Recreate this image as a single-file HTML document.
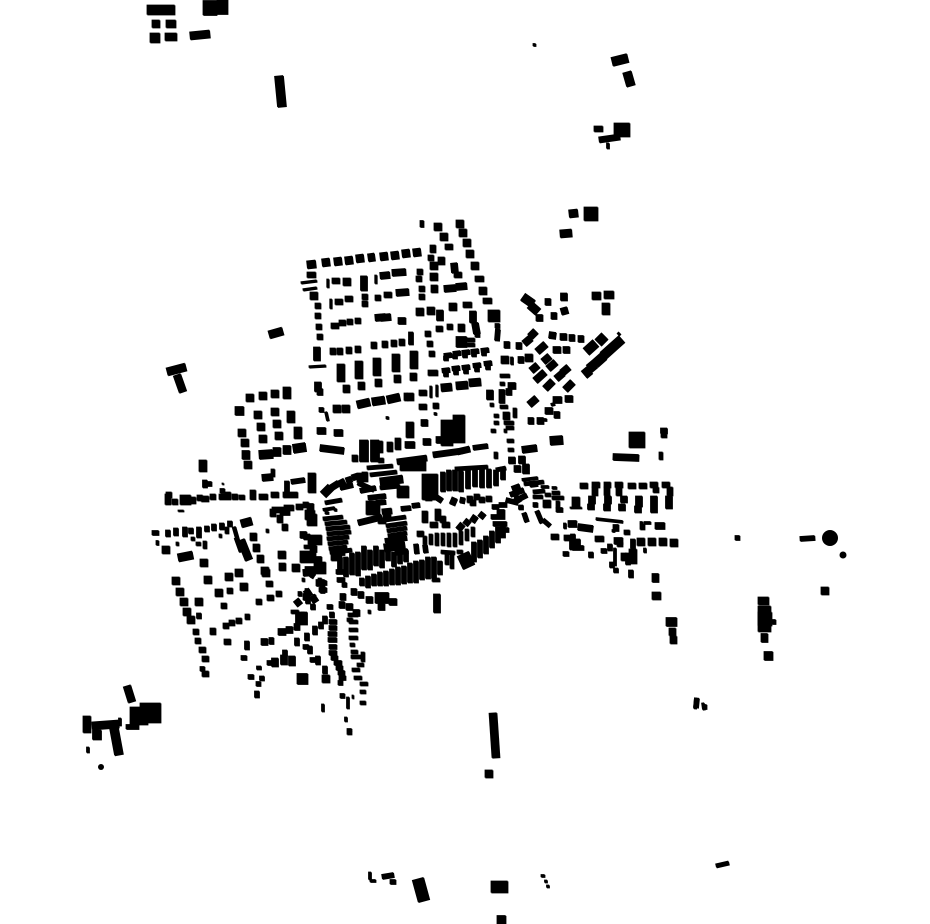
<!DOCTYPE html>
<html><head><meta charset="utf-8"><title>Figure-ground map</title>
<style>html,body{margin:0;padding:0;background:#fff}svg{display:block}</style></head>
<body>
<svg xmlns="http://www.w3.org/2000/svg" width="930" height="924" viewBox="0 0 930 924">
<rect width="930" height="924" fill="#fff"/>
<defs><g id="m" fill="none" stroke="#000">
<!-- outlying -->
<path stroke-width="10" d="M147 10h28M150 38h10"/>
<path stroke-width="15" d="M203 8h14M217 7h11"/>
<path stroke-width="8" d="M152 24h8M166 24h10M165 37h12M190 36l20-2M569 214l9-1M560 234l12-1M758 601h11"/>
<path stroke-width="9" d="M279 76l3 31"/>
<path stroke-width="3" d="M533 45h3"/>
<path stroke-width="9" d="M612 62l16-4M627 72l4 14"/>
<path stroke-width="6" d="M594 129h9M599 140l21-3"/>
<path stroke-width="3" d="M608 143v6"/>
<path stroke-width="14" d="M614 130h16M584 214h14M758 619h14"/>
<path stroke-width="26" d="M758 619h13"/>
<path stroke-width="8" d="M269 335l14-4"/>
<path stroke-width="8" d="M167 372l19-5M177 375l6 17"/>
<path stroke-width="7" d="M437 594v19"/>
<path stroke-width="8" d="M493 713l3 45"/>
<path stroke-width="8" d="M485 774h8"/>
<path stroke-width="4" d="M716 866l13-3"/>
<path stroke-width="12" d="M418 879l6 22M491 887h17"/>
<path stroke-width="9" d="M497 920h9M761 638h7M764 656h9M652 578h7M666 622h11"/>
<path stroke-width="8" d="M652 596h9M669 632h7M670 640h7M821 591h8"/>
<path stroke-width="5" d="M382 877l12-2M800 539l15-1M735 538h5M390 882h6"/>
<path stroke-width="3" d="M370 872v8M370 881h6M541 876h4M546 880v3M548 885v3M696 698l-1 11M703 703l1 7M88 747v6M120 718v8"/>
<path stroke-width="5" d="M697 698l-1 10M703 707h4M772 622h4"/>
<path stroke-width="8" d="M127 686l5 16M87 716v17"/>
<path stroke-width="18" d="M130 716h18"/>
<path stroke-width="20" d="M140 713h21"/>
<path stroke-width="8" d="M92 726l27-2"/>
<path stroke-width="9" d="M97 730v10M114 728l5 27"/>
<path stroke-width="5" d="M126 727h13"/>
<path stroke-width="16" d="M629 440h16"/>
<path stroke-width="7" d="M613 457l26 1M664 428v6"/>
<path stroke-width="4" d="M661 436h6M661 452v8"/>
<path stroke-width="3" d="M620 333l-2 2"/>
<!-- north block w8 -->
<path stroke-width="8" d="M307 265l9-1M322 263l8-1M334 262l8-1M345 261l8-1M356 259l8-1M368 258l7-1M380 257l8-1M391 256l8-1M402 254l8-1M413 253l8-1M310 296h8M430 249h6M434 227h8M440 237h8M456 224h8M459 233h8M463 243h8M466 254h8M471 266h8M479 291h8M430 266h8M430 277h8M438 261h7M431 289h7M343 282h8M343 389h7M358 386h7M375 383h7M394 379h7M410 377h7M404 397h10M458 328h7M416 312h8M427 311h8M449 307h8"/>
<path stroke-width="6" d="M307 275h9M315 306h6M315 316h6M316 327h6M317 337h6M417 272h6M416 279h6M332 281h8M345 299h8M335 302h8M362 297h6M362 304h6M375 298h6M384 295h8M419 289h6M419 297h6M445 247h8M428 258h6M454 275h8M475 279h9M483 301h9M463 305h9M331 326h8M339 323h7M347 322h6M355 321h6M425 334h6M427 344h6M429 354h6M436 329h7M447 327h6M419 407h8M433 406h6M419 393h8M428 373h10"/>
<path stroke-width="2.5" d="M301 283l16-2M303 290l14-2"/>
<path stroke-width="2.5" d="M309 367l17-1M328 279v9M331 299v10M376 275v9M431 386v12M437 385v12"/>
<path stroke-width="7" d="M317 347v14M318 382v10M317 392h6M375 318l11-1M380 318l11-1M398 321h8M364 276v15"/>
<path stroke-width="7" d="M380 276l10-1M392 273l14-1M396 293l13-1M444 289l12-1M456 287l11-1M440 310v11M473 311v12M475 323l2 11M420 224h4"/>
<path stroke-width="12" d="M488 316h12"/>
<path stroke-width="5" d="M498 329l-1 12M475 335h5M495 326h5"/>
<path stroke-width="7" d="M454 263l1 10"/>
<path stroke-width="6" d="M364 276v15M333 348v7M340 348v7M349 347v7M358 346v7M374 342v7M385 341v7M394 340v7M402 339v7"/>
<path stroke-width="5" d="M411 332v13"/>
<path stroke-width="11" d="M456 342h11"/>
<path stroke-width="4" d="M467 340h8M467 345h8"/>
<path stroke-width="5" d="M444 356l8-1M453 354l8-1M462 353l8-1M471 352l8-1M481 351l8-1M446 356v5M455 354v5M465 353v5M474 352v5M484 351v5M442 371l8-1M452 369l8-1M462 368l8-1M473 366l8-1M484 364l8-1M446 372v5M456 370v5M466 369v5M477 367v5M488 365v5"/>
<path stroke-width="8" d="M341 364v18M359 361v18M377 358v18M396 354v18M414 351v18"/>
<path stroke-width="8" d="M333 409h8M342 409h8M357 405l13-3M372 402l13-2M387 400l13-3M408 397h-1M441 388l11-1M456 386l12-1M469 383l12-1"/>
<path stroke-width="5" d="M319 410h5"/>
<path stroke-width="3" d="M326 412l2 9M434 414h3M386 418h3"/>
<!-- east cluster -->
<path stroke-width="9" d="M523 297l10 7M530 305l8 7"/>
<path stroke-width="7" d="M536 318h7M545 302h6M551 316h6M561 312l7-2M564 293v8"/>
<path stroke-width="8" d="M592 296h9M604 295h10M606 303v12M501 360h8M525 358h8"/>
<path stroke-width="7" d="M504 345h6M516 346h6M524 344l7-6M530 337l6-6M549 335l7 1M560 337h7M569 338h6M578 339h6M537 352l9-8M553 350h8M563 350h7M518 360h6M543 362l7-6M548 369l8-7M562 373l7-6M531 371l7-6M535 381l10-9M556 379l7-6M545 389l8-8M565 390l8-8"/>
<path stroke-width="3" d="M512 357v8"/>
<path stroke-width="9" d="M586 352l10-9M598 343l7-7M603 356l10-9M613 347l9-8M595 364l9-8M589 369l6-5M584 375l6-5"/>
<path stroke-width="7" d="M529 405l8-7M553 400h9M565 399h8M545 411h8M554 415h6M528 421h6M537 421h7"/>
<path stroke-width="9" d="M550 441l13-1"/>
<path stroke-width="3" d="M544 420h3M551 405l4-1"/>
<!-- right column near 500 -->
<path stroke-width="4" d="M500 376h10M500 384h5M500 407h8M515 408v10M503 414h7M503 418h7M494 416h5M494 423h5M491 431h5M504 431h3M507 441h7M508 450h6M496 452v7M488 397h4M490 405h4M504 423h10M506 428h8"/>
<path stroke-width="7" d="M499 393h6M499 400h6M508 386h8M506 392h6M522 450l15-2M512 457v7M522 456v8M514 469h7M526 464v10M490 390v10"/>
<path stroke-width="3" d="M522 480l16-2M530 486l8-1M541 487h8M552 488h5"/>
<path stroke-width="4" d="M524 484l20-2M533 492l12-1M533 497h10M552 493h8M552 498h12M543 502h8M543 506h8M558 501v8M545 495h6"/>
<path stroke-width="5" d="M521 505v5M533 505h5M524 513l3 9M537 511l5 12M543 520l7 6M556 510h7M510 495l14-5M515 501l12-6M512 489l8-3"/>
<!-- east rows -->
<path stroke-width="6" d="M580 486h8M592 485h8M604 485h7M615 485h8M628 486h8M639 486h8M650 485h8M662 485h8"/>
<path stroke-width="6" d="M595 487v9M607 487v9M619 487v9M656 487v6M670 487v9M572 500h8M572 505h8"/>
<path stroke-width="7" d="M592 496v8M608 496v8M624 496v7M639 496v11M654 496v11M669 496v13M591 504v6M607 504v7M622 504v7M638 506v7M654 506v7"/>
<path stroke-width="2" d="M570 508h12"/>
<path stroke-width="3" d="M596 519l27 3M640 523h3M644 523h7M612 531h3"/>
<path stroke-width="7" d="M568 524h9M578 527l15 2M655 526h10M613 528h6M614 541h9"/>
<path stroke-width="6" d="M551 537h8M564 538h7M595 539h9M627 530v5M640 527h5M620 542v5M624 553v8"/>
<path stroke-width="11" d="M575 539v11"/>
<path stroke-width="5" d="M572 548h12M573 534v10"/>
<path stroke-width="8" d="M637 542h8M648 542h8M659 542h8M670 543h8"/>
<path stroke-width="5" d="M633 539v10M628 553v12M610 544v7M563 554h6M591 552v6M601 551h6M612 562v6M616 568v5M631 570v8"/>
<path stroke-width="8" d="M629 553h8M629 560h8"/>
<path stroke-width="3" d="M615 548v18M645 548v5M565 523v6"/>
<!-- west block -->
<path stroke-width="8" d="M246 398h8M259 396h8M271 394h8M254 415h8M271 412h8M257 427h8M273 424h8M238 433h8M241 443h8M259 439h8M275 436h8M244 465h8"/>
<path stroke-width="9" d="M235 411h9M242 455h8M259 455l14-1M273 452h8M283 450h8M293 449l13-2"/>
<path stroke-width="8" d="M287 387v12M291 411v12M298 427v12M203 460v12"/>
<path stroke-width="7" d="M262 478l11-1"/>
<path stroke-width="4" d="M273 469v8"/>
<path stroke-width="6" d="M166 495h6M168 494v11M175 499v6M183 495v10M188 495v10M193 497v7M200 495v6M201 499h8M210 497h6M219 497h6M228 492v8M235 494v6M242 495v5M253 490v10M259 497h9M271 495h8M283 495h15"/>
<path stroke-width="5" d="M287 481v12M291 482l14-2M203 484h9M205 480v8M220 491h5"/>
<path stroke-width="8" d="M312 473v20"/>
<path stroke-width="2" d="M178 511h6M222 484h2"/>
<path stroke-width="5" d="M152 533h7M156 543h3M168 530v7M176 528v8M185 527v10M191 528v6M199 527v11M207 526v6M214 524v7M222 523v7M230 521v6"/>
<path stroke-width="8" d="M241 524l11-3"/>
<path stroke-width="8" d="M162 550h8M178 558l15-3M200 563h8M250 537h7M253 548h7M257 559h7M261 571h8M278 555h8M279 567h7M292 568h8"/>
<path stroke-width="4" d="M176 544h3M193 537v4M196 544h5M205 541v8M219 536h3M227 527v7M234 527l4 14M236 538l5 14M266 531h3"/>
<path stroke-width="8" d="M241 540l8 20"/>
<path stroke-width="6" d="M303 505h6M272 510h12M284 508h10M296 507h7M273 509v8M285 524v7M280 515v8"/>
<path stroke-width="7" d="M303 573l12-1M280 512h10"/>
<!-- south-west -->
<path stroke-width="8" d="M172 581h8M176 592h8M180 602h8M183 612h8M187 620h8M204 580h8M195 602h8M215 593h8M225 577h8M235 573h8M240 587h8M262 573h8"/>
<path stroke-width="6" d="M193 632h6M195 641h6M199 650h7M202 659h7M202 674h7M221 606h6M230 588v6M213 628v7M226 623v6M232 620v6M236 621h6M245 617h5M224 642h7M266 584h7M256 602h6M267 598h7M276 594h6"/>
<path stroke-width="5" d="M199 613v6M247 641v9M241 658h6M248 677h6M259 666v4M262 676v5M256 684h5M257 691v7M267 663h5M200 669h5"/>
<path stroke-width="7" d="M261 642h7M269 641h5M278 632h8M286 630h7M294 627h6M275 658v9M284 655v10M292 656v10M299 612v13M304 612v13"/>
<path stroke-width="4" d="M291 612h8M298 612v12M303 612v12"/>
<path stroke-width="11" d="M297 679h11"/>
<path stroke-width="5" d="M285 650v6M303 647h6M307 633v8M297 638v8M310 646v8M315 626v9M321 622v7M325 616v8M310 660h6M318 656v9M325 666v8M298 594h4M305 591h3M308 596v8M313 604v6M313 597h3M319 583h8M319 590h8"/>
<path stroke-width="8" d="M322 679h8"/>
<path stroke-width="3" d="M323 704v8"/>
<path stroke-width="5" d="M327 607h6M332 612v6M329 622h8M329 628h8M328 634h9M328 640h9M329 647h8M329 653h8M331 658h7M334 663h8M336 668h7M338 673h7M339 678h7M338 683h5M340 696h5"/>
<path stroke-width="3" d="M348 697v12M346 717v5M347 730h5"/>
<path stroke-width="4" d="M347 733h5M348 615h10M347 620h6M349 622h9M349 630h9M349 638h9M350 645h5M351 652h7M351 657h10M363 652v10M357 665h7M352 670h8M354 678h8M360 684h8M360 692h6M360 703h6M352 697h2M368 612h3"/>
<!-- core -->
<path stroke-width="7" d="M317 431h9M334 433h9M320 448l24 3M307 507h7M300 535h7M307 534v6M310 549h7M405 445h10M423 442h8M436 440h7M421 423h7"/>
<path stroke-width="8" d="M410 422v16"/>
<path stroke-width="10" d="M305 515h10M312 526v-12M308 540h14"/>
<path stroke-width="12" d="M314 568h12M447 420v26M459 415v28"/>
<path stroke-width="9" d="M364 440v22M375 440v22"/>
<path stroke-width="6" d="M380 441v12M381 458v5M390 442v10M398 438v12M355 455v7"/>
<path stroke-width="6" d="M397 462l30-4M433 455l29-4M457 452l13-3"/>
<path stroke-width="5" d="M473 448l15-2"/>
<path stroke-width="4" d="M367 468l26-2M370 475l27-3M380 488l20-2"/>
<path stroke-width="8" d="M380 482l23-3"/>
<path stroke-width="12" d="M397 492h12"/>
<path stroke-width="10" d="M400 466h26"/>
<path stroke-width="16" d="M430 474v26"/>
<path stroke-width="8" d="M323 495l8-8"/>
<path stroke-width="6" d="M331 488l8-5M339 484l6-3M346 481l6-2M352 478l6-2M360 473v10M365 472v10"/>
<path stroke-width="5" d="M340 488l13-3M360 491l16-3M368 498l18-2M376 503l10-1M358 483l16 7"/>
<path stroke-width="4" d="M325 503l17-3"/>
<path stroke-width="3" d="M323 510l12-2M325 513h4M334 510h3"/>
<path stroke-width="4" d="M323 519l20-2M325 524l22-2M326 529l24-2M327 534l24-2M327 539l22-2M328 544l20-2M329 549l18-2M330 553l22-3"/>
<path stroke-width="14" d="M366 508h14"/>
<path stroke-width="6" d="M358 523l24-6M382 512l10-1M383 517h8M378 521h8"/>
<path stroke-width="4" d="M385 520l21-3M386 526l21-3M387 531l20-3M388 536l19-3"/>
<path stroke-width="5" d="M385 541l22-3M395 553l13-2M401 509l10-1M412 506l8-1"/>
<path stroke-width="8" d="M384 548l21-3"/>
<path stroke-width="7" d="M335 552h10"/>
<path stroke-width="5" d="M443 472v20M449 470v21M455 470v21M461 471v21M468 467v22M475 467v20M482 468v20M489 469v19M496 470v16M503 467v13"/>
<path stroke-width="4" d="M455 469l33-2M496 470l10-2"/>
<path stroke-width="6" d="M425 498h7M434 500v-6M452 505l3-7M460 500l5 1M470 503v-7M477 500v-6M489 496v6M479 500h6M470 503h6M436 497l6 4"/>
<path stroke-width="6" d="M425 511v12M438 509v12M443 516v7M430 525h8M442 525h8M417 534h7M465 525l4-5M472 522l4-6M480 518l4-5M458 530l5-6"/>
<path stroke-width="4" d="M425 536v9M431 534v11M437 533v13M443 533v13M449 533v14M455 533v14M461 531v14M467 529v12M473 527v10"/>
<path stroke-width="5" d="M416 544l1 10M425 545l1 8"/>
<path stroke-width="5" d="M492 507h7M497 512h8M499 505h8M491 517h14M493 524h14M497 530h12M500 535h4M506 500l12 3M514 493l6 9"/>
<path stroke-width="13" d="M463 554l6 13"/>
<path stroke-width="5" d="M474 542v20M480 540v18M486 536v18M492 531v17M498 527v16M503 525v13"/>
<path stroke-width="4" d="M452 553v16M447 553v12M441 552l14 1M457 552h6"/>
<path stroke-width="5" d="M416 561v22M422 560v20M428 557v22M434 557v22M440 561v14M410 563v20M404 566v18M398 567v18M392 569v16M386 571v15M380 572v14M374 574v12M368 576v12M362 578v8"/>
<path stroke-width="4" d="M432 580h8"/>
<path stroke-width="5" d="M340 557v14M346 557v20M352 553v22M358 552v24M364 546v24M370 550v20M376 546v20M382 550v18M388 545v16M394 552v15M400 550v14M406 550v12M336 572h8M337 580h8M342 585h5"/>
<path stroke-width="10" d="M331 556h11"/>
<path stroke-width="11" d="M375 598h14"/>
<path stroke-width="7" d="M389 602h8M366 600h7M340 597h6M351 592h6M358 595h6M339 605h6M353 613h7M378 607h7M346 607h7"/>
<path stroke-width="12" d="M300 557h16"/>
<path stroke-width="7" d="M316 560h6M305 570h18M316 583h9M320 590h5M306 590l4 6M312 596l4 6M296 600l4 5M303 597h6"/>
<path stroke-width="4" d="M304 547h12M302 580h3M311 578l3-5M320 578v6"/>
</g></defs>
<use href="#m" transform="translate(-.4,-.4)"/>
<use href="#m" transform="translate(.4,.4)"/>
<circle cx="830" cy="538" r="8" fill="#000"/>
<circle cx="843" cy="555" r="3.5" fill="#000"/>
<circle cx="101" cy="767" r="3" fill="#000"/>
</svg>
</body></html>
